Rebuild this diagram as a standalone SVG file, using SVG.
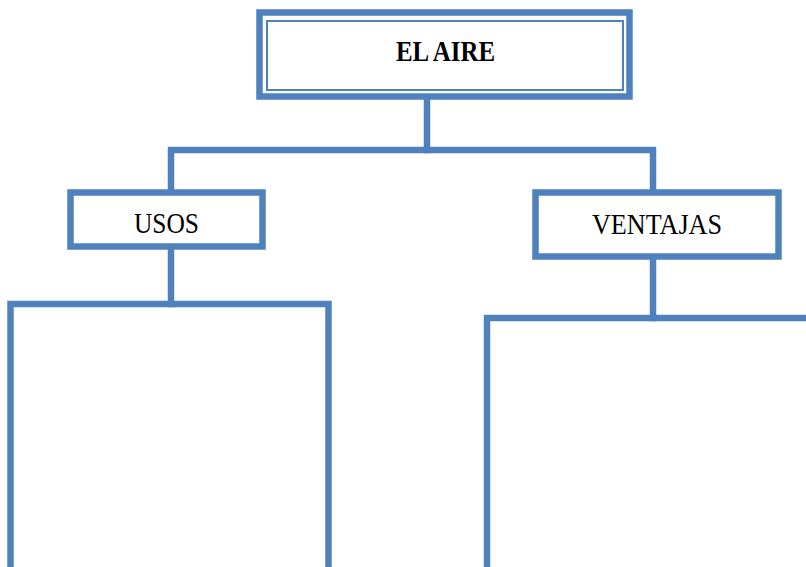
<svg xmlns="http://www.w3.org/2000/svg" width="806" height="567" viewBox="0 0 806 567">
  <style>
    .frame { fill: #ffffff; stroke: #4f81bd; stroke-width: 6.5; }
    .thin { fill: none; stroke: #4f81bd; stroke-width: 2; }
    .wire { fill: none; stroke: #4f81bd; stroke-width: 6.5; stroke-linejoin: miter; stroke-linecap: square; }
    .label { font-family: "Liberation Serif", "DejaVu Serif", serif; font-size: 30px; fill: #000000; text-anchor: middle; }
  </style>
  <rect width="806" height="567" fill="#ffffff"/>

  <!-- connectors -->
  <g id="connectors">
    <path class="wire" d="M 427 99 V 150"/>
    <path class="wire" d="M 171 189 V 150 H 653 V 189"/>
    <path class="wire" d="M 171 250 V 304"/>
    <path class="wire" d="M 653 260 V 318"/>
  </g>

  <!-- title -->
  <g id="node-aire">
    <rect class="frame" x="259.5" y="12.5" width="370" height="84"/>
    <rect class="thin" x="267" y="21" width="356" height="69"/>
    <text class="label" x="445.5" y="61" font-weight="bold" textLength="99" lengthAdjust="spacingAndGlyphs">EL AIRE</text>
  </g>

  <g id="node-usos">
    <rect class="frame" x="70.5" y="192.5" width="192" height="54"/>
    <text class="label" x="166.5" y="233" textLength="65" lengthAdjust="spacingAndGlyphs">USOS</text>
  </g>

  <g id="node-ventajas">
    <rect class="frame" x="535.5" y="192.5" width="243" height="64"/>
    <text class="label" x="657" y="234" textLength="130" lengthAdjust="spacingAndGlyphs">VENTAJAS</text>
  </g>

  <!-- open answer boxes -->
  <g id="box-usos">
    <path class="wire" d="M 10.5 570 V 304 H 328.5 V 570"/>
  </g>
  <g id="box-ventajas">
    <path class="wire" d="M 487 570 V 318 H 810"/>
  </g>
</svg>
